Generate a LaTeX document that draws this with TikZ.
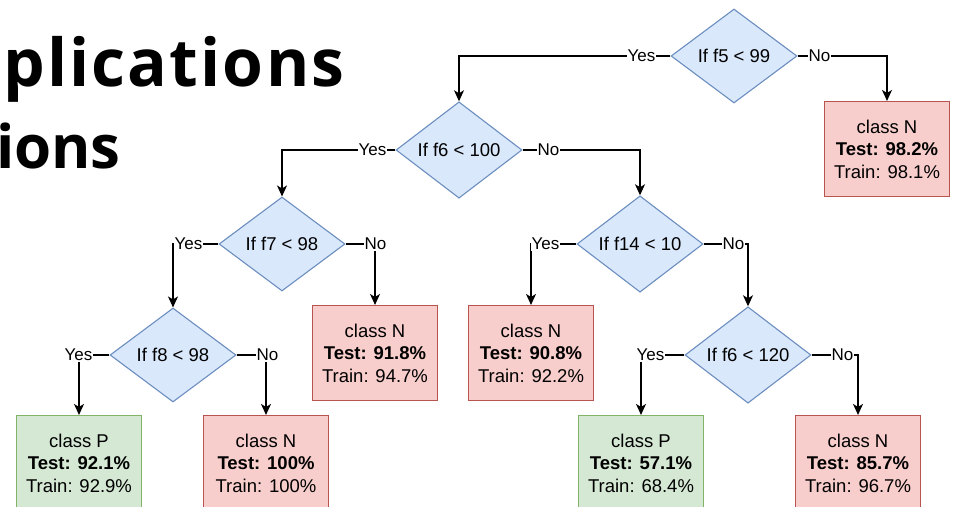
\documentclass[tikz,border=0pt]{standalone}
\usepackage{fontspec}
\setmainfont{Liberation Sans}
\newfontfamily\headfont{Open Sans}
\newfontfamily\headfontwide[LetterSpace=3.3]{Open Sans}
\usetikzlibrary{shapes.geometric,arrows.meta}

\definecolor{testFill}{HTML}{DAE8FC}
\definecolor{testLine}{HTML}{6C8EBF}
\definecolor{negFill}{HTML}{F8CECC}
\definecolor{negLine}{HTML}{B85450}
\definecolor{posFill}{HTML}{D5E8D4}
\definecolor{posLine}{HTML}{82B366}

\begin{document}
\begin{tikzpicture}[x=1pt,y=-1pt,
  testbox/.style={diamond, draw=testLine, fill=testFill, line width=1.1pt,
    minimum width=126pt, minimum height=94pt, inner sep=0pt,
    font=\fontsize{18.5}{22.5}\selectfont},
  leafbox/.style={rectangle, line width=1.1pt, minimum width=125pt,
    minimum height=95pt, inner sep=0pt, align=center,
    font=\fontsize{18.5}{22.5}\selectfont},
  negleaf/.style={leafbox, draw=negLine, fill=negFill},
  posleaf/.style={leafbox, draw=posLine, fill=posFill},
  lbl/.style={fill=white, inner sep=1pt, font=\fontsize{17}{20}\selectfont},
  arr/.style={line width=1.2pt, -{Stealth[length=11pt,width=10pt,inset=3pt]}},
  heading/.style={inner sep=0pt}]

\useasboundingbox (0,0) rectangle (957,506);
\clip (0,0) rectangle (957,506);

% heading fragments on the left
\node[heading, anchor=base west, font=\headfontwide\bfseries\fontsize{66}{70}\selectfont]
  (h1) at (3,86) {plications};
\node[heading, anchor=base east, font=\headfont\bfseries\fontsize{60}{70}\selectfont]
  (h2) at (121,168) {ions};

% decision nodes
\node[testbox] (d1) at (734,56)  {If f5 < 99};
\node[testbox] (d2) at (459,150) {If f6 < 100};
\node[testbox] (d3) at (282,244) {If f7 < 98};
\node[testbox] (d4) at (640,244) {If f14 < 10};
\node[testbox] (d5) at (173,355) {If f8 < 98};
\node[testbox] (d6) at (748,355) {If f6 < 120};

% leaves
\node[negleaf] (n1) at (887,149) {class N\\\textbf{Test: 98.2\%}\\Train: 98.1\%};
\node[negleaf] (n2) at (375,353) {class N\\\textbf{Test: 91.8\%}\\Train: 94.7\%};
\node[negleaf] (n3) at (531,353) {class N\\\textbf{Test: 90.8\%}\\Train: 92.2\%};
\node[posleaf] (p1) at (79,463)  {class P\\\textbf{Test: 92.1\%}\\Train: 92.9\%};
\node[negleaf] (n4) at (266,463) {class N\\\textbf{Test: 100\%}\\Train: 100\%};
\node[posleaf] (p2) at (641,463) {class P\\\textbf{Test: 57.1\%}\\Train: 68.4\%};
\node[negleaf] (n5) at (858,463) {class N\\\textbf{Test: 85.7\%}\\Train: 96.7\%};

% branches
\draw[arr] (d1.west) -- ++(-29,0) node[lbl] {Yes} -| (d2.north);
\draw[arr] (d1.east) -- ++(22,0)  node[lbl] {No}  -| (n1.north);
\draw[arr] (d2.west) -- ++(-23,0) node[lbl] {Yes} -| (d3.north);
\draw[arr] (d2.east) -- ++(26,0)  node[lbl] {No}  -| (d4.north);
\draw[arr] (d3.west) -- ++(-30,0) node[lbl] {Yes} -| (d5.north);
\draw[arr] (d3.east) -- ++(30,0)  node[lbl] {No}  -| (n2.north);
\draw[arr] (d4.west) -- ++(-31,0) node[lbl] {Yes} -| (n3.north);
\draw[arr] (d4.east) -- ++(30,0)  node[lbl] {No}  -| (d6.north);
\draw[arr] (d5.west) -- ++(-31,0) node[lbl] {Yes} -| (p1.north);
\draw[arr] (d5.east) -- ++(31,0)  node[lbl] {No}  -| (n4.north);
\draw[arr] (d6.west) -- ++(-34,0) node[lbl] {Yes} -| (p2.north);
\draw[arr] (d6.east) -- ++(31,0)  node[lbl] {No}  -| (n5.north);
\end{tikzpicture}
\end{document}
